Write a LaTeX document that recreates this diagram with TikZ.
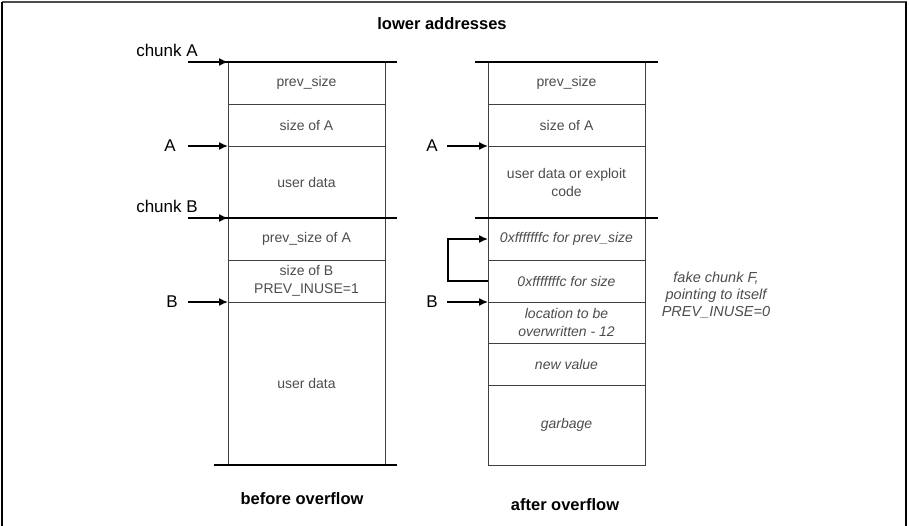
\documentclass[tikz,border=0pt]{standalone}
\usepackage{fontspec}
\setmainfont{Liberation Sans}
\usetikzlibrary{positioning}
\usetikzlibrary{arrows.meta}
\tikzset{node distance=0pt,
cell/.style={
draw=black!75,
minimum width=157pt,
inner sep=0pt,
outer sep=0pt,
align=center,
text=black!70,
font=\fontsize{14}{18}\selectfont},
fakecell/.style={
cell,
font=\fontsize{14}{18}\selectfont\itshape},
lbl/.style={font=\fontsize{17}{20}\selectfont},
caption/.style={font=\fontsize{16.5}{20}\selectfont\bfseries},
ptr/.style={-{Latex[length=9pt,width=8pt]}, line width=1.5pt},
bound/.style={line width=2pt}}

\begin{document}
\begin{tikzpicture}[x=1pt,y=-1pt]
\useasboundingbox (0,0) rectangle (909,526);
% frame
\draw[line width=2.5pt, black!70] (2,2) -- (907,2);
\draw[line width=1.5pt] (2,2) -- (2,526);
\draw[line width=1.5pt] (906,2) -- (906,526);

\node[caption] (low) at (442,24) {lower addresses};

% before overflow
\node[cell, minimum height=42pt, anchor=north west] (lps) at (228,62) {prev\_size};
\node[cell, minimum height=42pt, below=of lps] (lsa) {size of A};
\node[cell, minimum height=72pt, below=of lsa] (lud) {user data};
\node[cell, minimum height=42pt, below=of lud] (lpb) {prev\_size of A};
\node[cell, minimum height=42pt, below=of lpb] (lsb) {size of B\\PREV\_INUSE=1};
\node[cell, minimum height=163pt, below=of lsb] (lub) {user data};
\node[caption] (before) at (302,499) {before overflow};

% after overflow
\node[cell, minimum height=42pt, anchor=north west] (rps) at (488,62) {prev\_size};
\node[cell, minimum height=42pt, below=of rps] (rsa) {size of A};
\node[cell, minimum height=72pt, below=of rsa] (rud) {user data or exploit\\code};
\node[fakecell, minimum height=42pt, below=of rud] (rfp) {0xfffffffc for prev\_size};
\node[fakecell, minimum height=42pt, below=of rfp] (rfs) {0xfffffffc for size};
\node[fakecell, minimum height=41pt, below=of rfs] (rloc) {location to be\\overwritten - 12};
\node[fakecell, minimum height=42pt, below=of rloc] (rnv) {new value};
\node[fakecell, minimum height=80pt, below=of rnv] (rgb) {garbage};
\node[caption] (after) at (565,505) {after overflow};

\node[text=black!70, align=center, font=\fontsize{14.5}{17}\selectfont\itshape] (fake) at (716,295) {fake chunk F,\\pointing to itself\\PREV\_INUSE=0};

% chunk boundaries
\draw[bound] ([xshift=-40pt]lps.north west) -- ([xshift=12pt]lps.north east);
\draw[bound] ([xshift=-40pt]lpb.north west) -- ([xshift=12pt]lpb.north east);
\draw[bound] ([xshift=-14pt]lub.south west) -- ([xshift=12pt]lub.south east);
\draw[bound] ([xshift=-13pt]rps.north west) -- ([xshift=13pt]rps.north east);
\draw[bound] ([xshift=-13pt]rfp.north west) -- ([xshift=13pt]rfp.north east);

% pointers
\node[lbl] (chA) at (167,50) {chunk A};
\node[lbl] (chB) at (167,206) {chunk B};
\node[lbl] (lA) at (170,146) {A};
\node[lbl] (lB) at (172,302) {B};
\node[lbl] (rA) at (432,146) {A};
\node[lbl] (rB) at (432,302) {B};
\coordinate (tchA) at (188,62);
\coordinate (tchB) at (188,218);
\coordinate (tlA) at (188,146);
\coordinate (tlB) at (188,302);
\coordinate (trA) at (447,146);
\coordinate (trB) at (447,302);
\draw[ptr] (tchA) -- (lps.north west);
\draw[ptr] (tchB) -- (lpb.north west);
\draw[ptr] (tlA) -- (lud.north west);
\draw[ptr] (tlB) -- (lub.north west);
\draw[ptr] (trA) -- (rud.north west);
\draw[ptr] (trB) -- (rloc.north west);
\draw[ptr] (rfs.west) -- ++(-40pt,0) |- (rfp.west);
\end{tikzpicture}
\end{document}
